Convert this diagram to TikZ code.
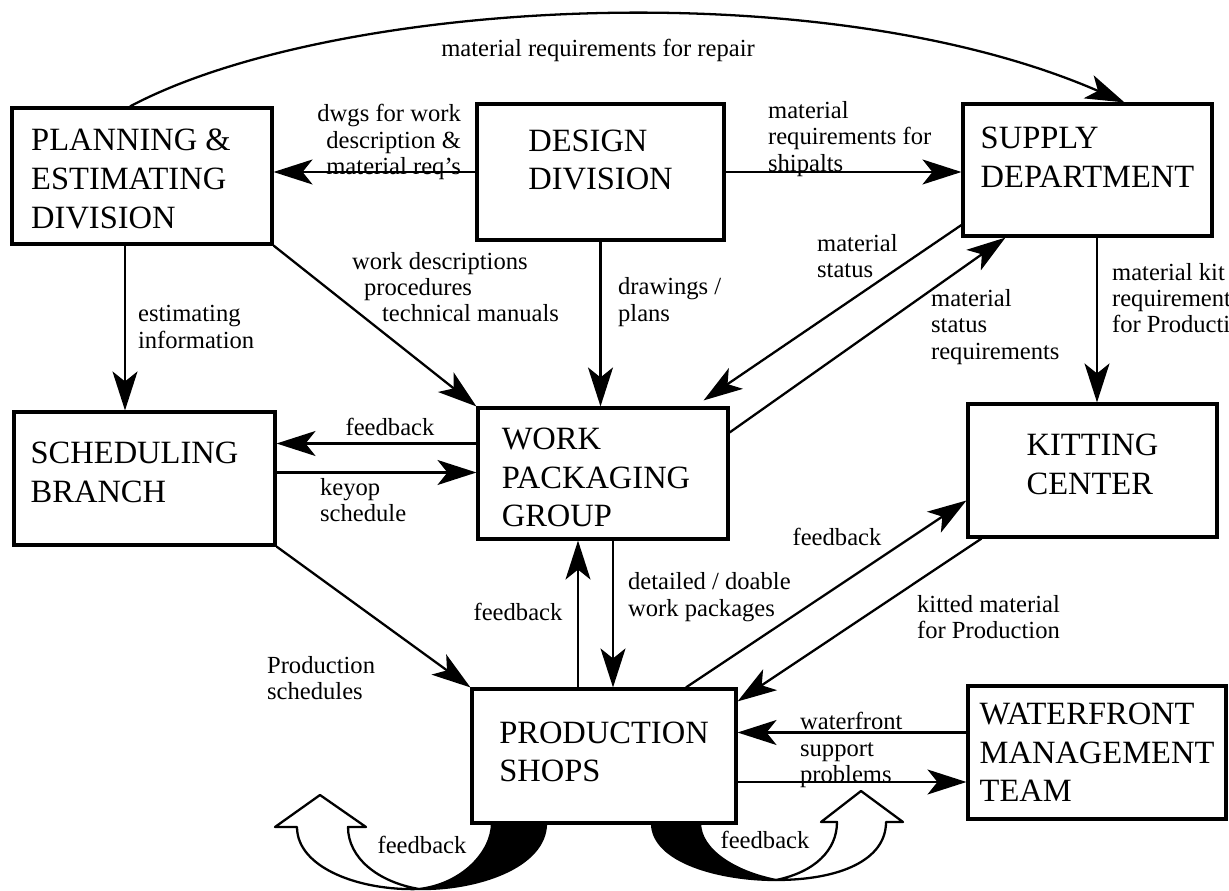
\documentclass[tikz,border=0pt]{standalone}
\usepackage{fontspec}
\setmainfont{Liberation Serif}
\usetikzlibrary{arrows.meta}

\begin{document}
\begin{tikzpicture}[x=0.02cm, y=-0.02cm,
  box/.style={draw, line width=1.8pt, inner sep=0pt},
  boxtxt/.style={align=left, inner sep=0pt, font=\fontsize{18.5}{22}\selectfont},
  lab/.style={align=left, inner sep=1pt, font=\fontsize{14}{15}\selectfont},
  ar/.style={-{Stealth[length=0.78cm,width=0.5cm,inset=0.2cm]}, line width=1.3pt},
  twist/.style={line width=1.3pt, line join=round}]

 \useasboundingbox (0,0) rectangle (1229,891);
 \clip (0,0) rectangle (1229,891);

 % ---- boxes ----
 \node[box, minimum width=5.2cm, minimum height=2.72cm] (plan) at (142,176) {};
 \node[box, minimum width=4.94cm, minimum height=2.72cm] (design) at (600.5,172) {};
 \node[box, minimum width=4.98cm, minimum height=2.64cm] (supply) at (1087.5,170) {};
 \node[box, minimum width=5.22cm, minimum height=2.66cm] (sched) at (144.5,478.5) {};
 \node[box, minimum width=5.0cm, minimum height=2.62cm] (wpg) at (603,473.5) {};
 \node[box, minimum width=4.98cm, minimum height=2.66cm] (kit) at (1092.5,470.5) {};
 \node[box, minimum width=5.28cm, minimum height=2.68cm] (prod) at (604,756) {};
 \node[box, minimum width=5.16cm, minimum height=2.66cm] (wft) at (1097,752.5) {};

 \node[boxtxt] (plant) at ([shift={(-11,3)}]plan.center) {PLANNING \&\\ESTIMATING\\DIVISION};
 \node[boxtxt] (designt) at ([shift={(0,-12)}]design.center) {DESIGN\\DIVISION};
 \node[boxtxt] (supplyt) at ([shift={(0,-13)}]supply.center) {SUPPLY\\DEPARTMENT};
 \node[boxtxt] (schedt) at ([shift={(-10,-6)}]sched.center) {SCHEDULING\\BRANCH};
 \node[boxtxt] (wpgt) at ([shift={(-7,4)}]wpg.center) {WORK\\PACKAGING\\GROUP};
 \node[boxtxt] (kitt) at ([shift={(0,-6)}]kit.center) {KITTING\\CENTER};
 \node[boxtxt] (prodt) at ([shift={(0,-4)}]prod.center) {PRODUCTION\\SHOPS};
 \node[boxtxt] (wftt) at (wft.center) {WATERFRONT\\MANAGEMENT\\TEAM};

 % ---- connectors ----
 \draw[ar] ([shift={(-12,0)}]plan.north) .. controls (330,0) and (820,-30) .. ([shift={(37,0)}]supply.north);
 \draw[ar] (design.west) -- (design.west -| plan.east);
 \draw[ar] (design.east) -- (design.east -| supply.west);
 \draw[ar] ([shift={(-17,0)}]plan.south) -- ([shift={(-17,0)}]plan.south |- sched.north);
 \draw[ar] (plan.south east) -- (wpg.north west);
 \draw[ar] (design.south) -- (design.south |- wpg.north);
 \draw[ar] ([shift={(0,55)}]supply.west) -- ([shift={(-26,-6)}]wpg.north east);
 \draw[ar] ([shift={(0,-41)}]wpg.east) -- ([shift={(-82,0)}]supply.south);
 \draw[ar] ([shift={(9.5,0)}]supply.south) -- ([shift={(9.5,0)}]supply.south |- kit.north);
 \draw[ar] ([shift={(0,-30)}]wpg.west) -- ([shift={(0,-30)}]wpg.west -| sched.east);
 \draw[ar] ([shift={(0,-6)}]sched.east) -- ([shift={(0,-6)}]sched.east -| wpg.west);
 \draw[ar] (sched.south east) -- (prod.north west);
 \draw[ar] ([shift={(-26,0)}]prod.north) -- ([shift={(-26,0)}]prod.north |- wpg.south);
 \draw[ar] ([shift={(10,0)}]wpg.south) -- ([shift={(10,0)}]wpg.south |- prod.north);
 \draw[ar] ([shift={(82,0)}]prod.north) -- ([shift={(0,30)}]kit.west);
 \draw[ar] ([shift={(15,0)}]kit.south west) -- ([shift={(0,14)}]prod.north east);
 \draw[ar] ([shift={(0,-20)}]wft.west) -- ([shift={(0,-20)}]wft.west -| prod.east);
 \draw[ar] ([shift={(0,26)}]prod.east) -- ([shift={(0,26)}]prod.east -| wft.west);

 % ---- feedback loops under the shops ----
 \filldraw[twist] (419,889) .. controls (475,890) and (546,868) .. (546,823) -- (492,823)
   .. controls (492,852) and (462,884) .. (419,889) -- cycle;
 \draw[twist, fill=white] (419,889) .. controls (360,891) and (297,868) .. (297,827) -- (275,827)
   -- (320,795) -- (366,827) -- (348,827) .. controls (348,858) and (378,882) .. (419,889) -- cycle;
 \filldraw[twist] (776,880) .. controls (720,880) and (652,862) .. (652,823) -- (700,823)
   .. controls (700,850) and (735,872) .. (776,880) -- cycle;
 \draw[twist, fill=white] (776,880) .. controls (840,880) and (886,860) .. (886,822) -- (903,822)
   -- (861,791) -- (821,822) -- (837,822) .. controls (837,850) and (815,872) .. (776,880) -- cycle;

 % ---- labels ----
 \node[lab] (l1) at (598,50) {material requirements for repair};
 \node[lab, align=right, anchor=east] (l2) at (463,142) {dwgs for work\\description \&\\material req's};
 \node[lab, anchor=west] (l3) at (766,139) {material\\requirements for\\shipalts};
 \node[lab, anchor=north west] (l4) at (350,250) {work descriptions\\\hspace*{0.24cm}procedures\\\hspace*{0.6cm}technical manuals};
 \node[lab, anchor=west] (l5) at (616,302) {drawings /\\plans};
 \node[lab, anchor=west] (l6) at (815,256) {material\\status};
 \node[lab, anchor=west] (l7) at (929,327) {material\\status\\requirements};
 \node[lab, anchor=west] (l8) at (1110,298) {material kit\\requirements\\for Production};
 \node[lab, anchor=west] (l9) at (136,327) {estimating\\information};
 \node[lab] (l10) at (390,427) {feedback};
 \node[lab, anchor=west] (l11) at (318,500) {keyop\\schedule};
 \node[lab, anchor=west] (l12) at (265,678) {Production\\schedules};
 \node[lab] (l13) at (518,612) {feedback};
 \node[lab, anchor=west] (l14) at (626,597) {detailed / doable\\work packages};
 \node[lab] (l15) at (837,537) {feedback};
 \node[lab, anchor=west] (l16) at (915,617) {kitted material\\for Production};
 \node[lab, anchor=west] (l17) at (798,750) {waterfront\\support\\problems};
 \node[lab] (l18) at (422,845) {feedback};
 \node[lab] (l19) at (765,840) {feedback};
\end{tikzpicture}
\end{document}
